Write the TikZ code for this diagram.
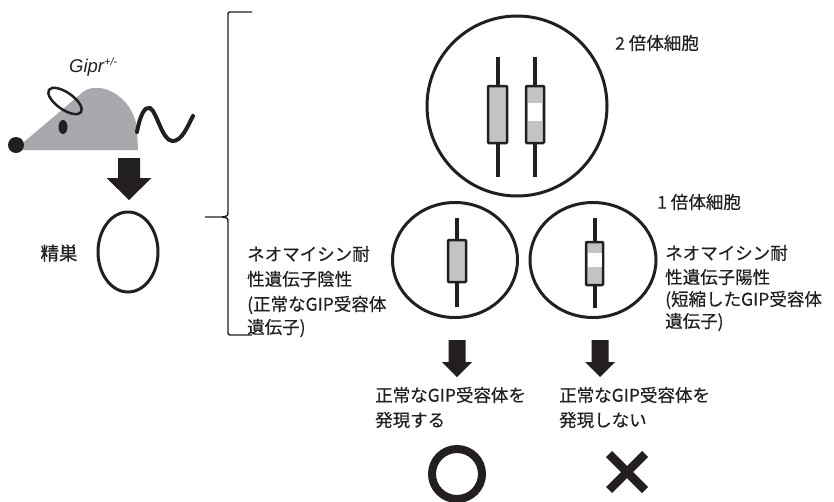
\documentclass[tikz,border=0pt]{standalone}
\usepackage{fontspec}
\setmainfont{Noto Sans CJK JP}[FakeBold=0.35]
\newfontfamily\latinsans{Liberation Sans}
\usetikzlibrary{shapes.geometric,calc}
\definecolor{ink}{HTML}{231F20}
\definecolor{mousegrey}{HTML}{A7A9AC}
\definecolor{chromgrey}{HTML}{C2C4C2}

% filled block arrow pointing down: centre x, top y, head-start y, tip y, shaft half width, head half width
\newcommand\fatdown[6]{%
  \fill[ink] (#1-#5,#2) -- (#1+#5,#2) -- (#1+#5,#3) -- (#1+#6,#3) -- (#1,#4)
    -- (#1-#6,#3) -- (#1-#5,#3) -- cycle;}
% chromosome: x, stalk top, box top, box bottom, stalk bottom, box half width
\newcommand\chrom[6]{%
  \draw[ink, line width=4pt] (#1,#2) -- (#1,#5);
  \draw[ink, line width=2.5pt, fill=chromgrey, rounded corners=0.8pt]
    (#1-#6,#3) rectangle (#1+#6,#4);}

\tikzset{
  cell/.style={draw=ink, line width=3pt, inner sep=0pt},
  lbl/.style={text=ink, inner sep=0pt, anchor=west, font=\fontsize{17.5}{20}\selectfont},
}

\begin{document}
\begin{tikzpicture}[x=1pt, y=-1pt]
\useasboundingbox (0,0) rectangle (834,501);

% --- mouse ---
\fill[mousegrey] (18,147) -- (83,92) .. controls (98,80) and (132,94) .. (137,128)
  -- (138,150) -- (18,150) -- cycle;
\fill[ink] (16,145) circle [radius=8pt];
\fill[ink] (63,127) ellipse [x radius=4.5pt, y radius=7pt];
\draw[ink, line width=2.5pt, rotate around={-35:(65,101)}]
  (65,101) ellipse [x radius=19.5pt, y radius=8.5pt];
\draw[ink, line width=4pt, line cap=round]
  (137,132) .. controls (140,115) and (145,106) .. (150,108)
  .. controls (157,112) and (162,140) .. (172,141)
  .. controls (182,142) and (188,125) .. (193,116);
\node[text=ink, inner sep=0pt, anchor=base west] (gipr) at (69,72)
  {\latinsans\itshape\fontsize{18.5}{20}\selectfont Gipr\textsuperscript{\fontsize{11}{12}\selectfont +/-}};

\fatdown{129}{158}{178}{200}{11}{22.5}

% --- testis ---
\node[cell, ellipse, minimum width=60pt, minimum height=80pt] (testis) at (128,252) {};
\node[text=ink, inner sep=0pt, font=\fontsize{18.5}{20}\selectfont] (testislbl) at (59,253) {精巣};

% --- bracket ---
\draw[ink, line width=1.4pt]
  (252,12) -- (232,12) .. controls (228,12) .. (228,16) -- (228,211)
  .. controls (228,216) .. (222,217) -- (205,217) -- (222,217)
  .. controls (228,218) .. (228,223) -- (228,331)
  .. controls (228,335) .. (233,335) -- (252,335);

% --- diploid cell ---
\node[cell, circle, minimum size=180pt] (diploid) at (517,106) {};
\chrom{497.5}{57}{86}{143}{177}{9.5}
\chrom{535}{57}{86}{143}{177}{9}
\fill[white] (528,103) rectangle (542,121);
\node[lbl] (dlbl) at (615,43) {2 倍体細胞};

% --- haploid cells ---
\node[cell, ellipse, minimum width=125pt, minimum height=115pt] (hapA) at (455,260) {};
\node[cell, ellipse, minimum width=126pt, minimum height=115pt] (hapB) at (593,260) {};
\chrom{457}{218}{240}{282}{307}{9}
\chrom{594.5}{218}{242}{285}{308}{8.5}
\fill[white] (587.5,253) rectangle (601.5,267);
\node[lbl] (hlbl) at (657,202) {1 倍体細胞};

% --- labels beside the haploid cells ---
\node[lbl] (negA) at (247,254) {ネオマイシン耐};
\node[lbl] (negB) at (247,279) {性遺伝子陰性};
\node[lbl] (negC) at (247,305) {(正常なGIP受容体};
\node[lbl] (negD) at (247,328) {遺伝子)};
\node[lbl] (posA) at (665,253) {ネオマイシン耐};
\node[lbl] (posB) at (665,277) {性遺伝子陽性};
\node[lbl] (posC) at (665,300) {(短縮したGIP受容体};
\node[lbl] (posD) at (665,322) {遺伝子)};

% --- outcomes ---
\fatdown{457}{340}{362}{377}{8.5}{15}
\fatdown{600}{340}{362}{377}{8.5}{15}
\node[lbl] (resA1) at (375,395) {正常なGIP受容体を};
\node[lbl] (resA2) at (375,420) {発現する};
\node[lbl] (resB1) at (559,395) {正常なGIP受容体を};
\node[lbl] (resB2) at (559,420) {発現しない};

\coordinate (yes) at (457,474);
\coordinate (no) at (627,472);
\draw[ink, line width=8pt] (yes) circle [radius=25pt];
\draw[ink, line width=8.5pt] ($(no)+(-18,-18)$) -- ($(no)+(18,18)$);
\draw[ink, line width=8.5pt] ($(no)+(-18,18)$) -- ($(no)+(18,-18)$);
\end{tikzpicture}
\end{document}
